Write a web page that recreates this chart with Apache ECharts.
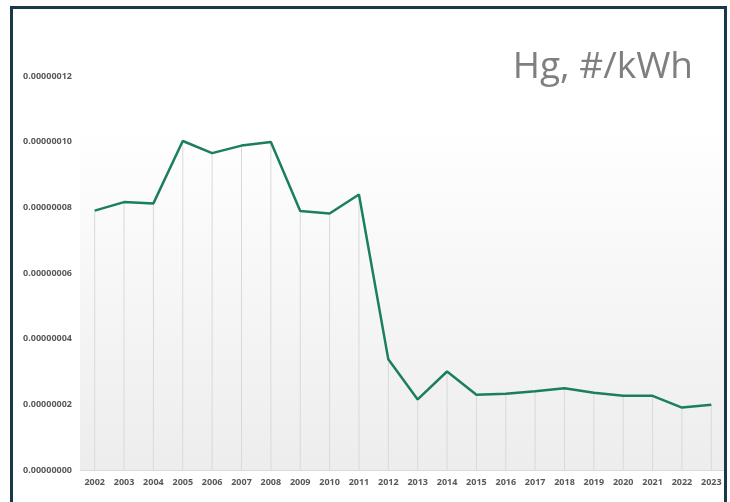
<!DOCTYPE html>
<html>
<head>
<meta charset="utf-8">
<script src="https://cdn.jsdelivr.net/npm/echarts@6/dist/echarts.min.js"></script>
<style>
  html, body { margin: 0; padding: 0; background: #fff; }
  #chart { width: 730px; height: 502px; }
</style>
</head>
<body>
<div id="chart"></div>
<script>
// 年份
const years = ['2002', '2003', '2004', '2005', '2006', '2007', '2008', '2009', '2010', '2011', '2012',
  '2013', '2014', '2015', '2016', '2017', '2018', '2019', '2020', '2021', '2022', '2023']
// Hg 排放强度
const hgValues = [7.90e-8, 8.16e-8, 8.12e-8, 10.02e-8, 9.65e-8, 9.88e-8, 9.99e-8, 7.89e-8, 7.81e-8, 8.39e-8, 3.37e-8,
  2.15e-8, 3.00e-8, 2.29e-8, 2.32e-8, 2.40e-8, 2.49e-8, 2.35e-8, 2.26e-8, 2.26e-8, 1.90e-8, 1.99e-8]
const titleText = 'Hg, #/kWh'

const chart = echarts.init(document.getElementById('chart'))
const option = {
  animation: false,
  title: {
    text: titleText,
    right: 32,
    top: 44,
    textStyle: {
      fontFamily: 'Open Sans',
      fontWeight: 'normal',
      fontSize: 37,
      color: '#7f7f7f'
    }
  },
  graphic: [{
    type: 'rect',
    shape: { x: 11.5, y: 7.5, width: 714, height: 540 },
    style: { fill: null, stroke: '#17394a', lineWidth: 3 },
    z: 100
  }],
  grid: {
    left: 80,
    right: 4,
    top: 76,
    bottom: 32,
    show: true,
    borderWidth: 0,
    backgroundColor: new echarts.graphic.LinearGradient(0, 0, 0, 1, [
      { offset: 0, color: '#ffffff' },
      { offset: 0.12, color: '#ffffff' },
      { offset: 1, color: '#ededed' }
    ])
  },
  xAxis: {
    type: 'category',
    data: years,
    boundaryGap: true,
    axisLine: { lineStyle: { color: '#d9d9d9', width: 1 } },
    axisTick: { show: false },
    axisLabel: {
      color: '#595959',
      fontFamily: 'Open Sans',
      fontWeight: 'bold',
      fontSize: 9,
      margin: 8,
      interval: 0
    }
  },
  yAxis: {
    type: 'value',
    min: 0,
    max: 12e-8,
    interval: 2e-8,
    axisLine: { show: false },
    axisTick: { show: false },
    splitLine: { show: false },
    axisLabel: {
      color: '#595959',
      fontFamily: 'Open Sans',
      fontWeight: 'bold',
      fontSize: 9,
      margin: 8,
      formatter: v => v.toFixed(8)
    }
  },
  series: [
    {
      // 垂直线
      type: 'bar',
      data: hgValues,
      barWidth: 1,
      itemStyle: { color: '#d9d9d9' },
      silent: true,
      z: 1
    },
    {
      type: 'line',
      data: hgValues,
      symbol: 'none',
      lineStyle: { color: '#1b7f5b', width: 2.5 },
      z: 3
    }
  ]
}
chart.setOption(option)
</script>
</body>
</html>
